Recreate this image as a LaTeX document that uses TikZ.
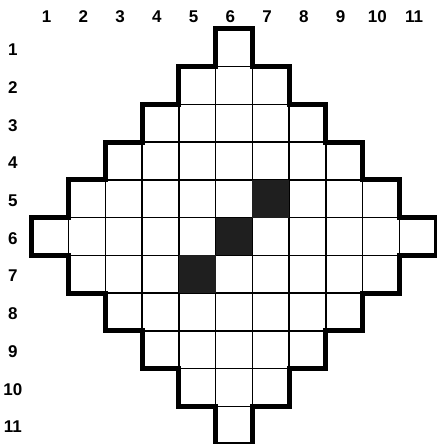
\documentclass[tikz,border=0pt]{standalone}
\usepackage{fontspec}
\setmainfont{Liberation Sans}
\tikzset{
  cell/.style={draw, line width=1.4pt},
  shade/.style={fill=black!88},
  rim/.style={line width=5pt, line join=miter},
  num/.style={font=\bfseries\fontsize{17}{20}\selectfont, inner sep=0pt},
}

\begin{document}
\begin{tikzpicture}[x=36.73pt, y=-37.73pt]
\useasboundingbox (-32pt,29pt) rectangle (404pt,-415pt);

% ===== board cells (diamond) =====
\foreach \rw in {1,...,11} {
  \pgfmathtruncatemacro{\k}{5-abs(\rw-6)}
  \pgfmathtruncatemacro{\lo}{6-\k}
  \pgfmathtruncatemacro{\hi}{6+\k}
  \foreach \cl in {\lo,...,\hi}
    \draw[cell] (\cl-1,\rw-1) rectangle (\cl,\rw);
}

% ===== dark squares =====
\foreach \cl/\rw in {7/5, 6/6, 5/7}
  \fill[shade] (\cl-1,\rw-1) rectangle (\cl,\rw);

% ===== outer rim =====
\draw[rim] (5,0) -| (6,1) -| (7,2) -| (8,3) -| (9,4) -| (10,5) -| (11,6)
  -| (10,7) -| (9,8) -| (8,9) -| (7,10) -| (6,11)
  -| (5,10) -| (4,9) -| (3,8) -| (2,7) -| (1,6)
  -| (0,5) -| (1,4) -| (2,3) -| (3,2) -| (4,1) -- (5,1) -- cycle;

% ===== numbering =====
\foreach \cl in {1,...,11}
  \node[num] (col\cl) at (\cl-0.6,-0.32) {\cl};
\foreach \rw in {1,...,11}
  \node[num] (row\rw) at (-0.52,\rw-0.45) {\rw};

\end{tikzpicture}
\end{document}
